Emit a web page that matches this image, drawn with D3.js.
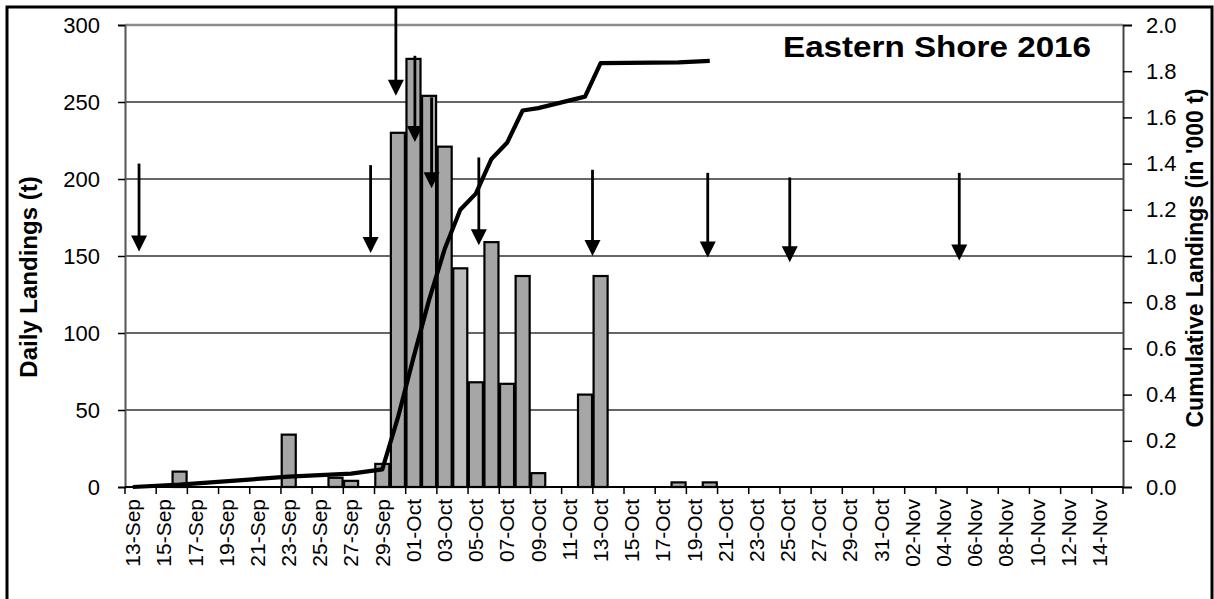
<!DOCTYPE html>
<html>
<head>
<meta charset="utf-8">
<script src="https://cdn.jsdelivr.net/npm/d3@7"></script>
<style>
  body { margin: 0; background: #fff; }
  svg { font-family: "Liberation Sans", Arial, sans-serif; }
</style>
</head>
<body>
<svg id="chart" width="1214" height="599"></svg>
<script>
// categories: one per day, 13-Sep to 15-Nov 2016
const fmt = d3.timeFormat("%d-%b");
const days = d3.timeDay.range(new Date(2016, 8, 13), new Date(2016, 10, 16)).map(fmt);

// daily landings (t), only days with landings
const barDays = ["16-Sep","23-Sep","26-Sep","27-Sep","29-Sep","30-Sep","01-Oct","02-Oct","03-Oct","04-Oct",
                 "05-Oct","06-Oct","07-Oct","08-Oct","09-Oct","12-Oct","13-Oct","18-Oct","20-Oct"];
const dailyLandings = [10, 34, 6, 4, 15, 230, 278, 254, 221, 142, 68, 159, 67, 137, 9, 60, 137, 3, 3];

// cumulative landings ('000 t)
const lineDays = ["13-Sep","16-Sep","23-Sep","26-Sep","27-Sep","29-Sep","30-Sep","01-Oct","02-Oct","03-Oct",
                  "04-Oct","05-Oct","06-Oct","07-Oct","08-Oct","09-Oct","12-Oct","13-Oct","18-Oct","20-Oct"];
const cumulative = [0.0, 0.01, 0.045, 0.055, 0.058, 0.076, 0.30, 0.56, 0.81, 1.03,
                    1.20, 1.27, 1.42, 1.49, 1.63, 1.64, 1.69, 1.835, 1.838, 1.845];

// arrows: position in days from start of axis, start and tip in daily-landing units
const arrowPos  = [0.9, 15.75, 17.37, 18.59, 19.66, 22.69, 29.98, 37.37, 42.63, 53.5];
const arrowFrom = [210, 209, 312, 280, 253, 214, 206, 204, 201, 204];
const arrowTo   = [153, 152, 254, 224, 194, 157, 150, 149, 146, 147];

const leftTicks = [0, 50, 100, 150, 200, 250, 300];
const rightTicks = [0, 0.2, 0.4, 0.6, 0.8, 1.0, 1.2, 1.4, 1.6, 1.8, 2.0];

const svg = d3.select("#chart");
const L = 125, R = 1123, T = 25, B = 487;

const x = d3.scaleBand().domain(days).range([L, R]).paddingInner(0.1).paddingOuter(0.05);
const xi = d3.scaleLinear().domain([0, days.length]).range([L, R]);
const y = d3.scaleLinear().domain([0, 300]).range([B, T]);
const y2 = d3.scaleLinear().domain([0, 2]).range([B, T]);

// outer frame
svg.append("rect").attr("x", 7).attr("y", 7).attr("width", 1205).attr("height", 640)
  .attr("fill", "none").attr("stroke", "#000").attr("stroke-width", 3);

// gridlines
svg.append("g").selectAll("line").data(leftTicks.filter(d => d > 0)).join("line")
  .attr("x1", L).attr("x2", R)
  .attr("y1", d => y(d)).attr("y2", d => y(d))
  .attr("stroke", d => d === 300 ? "#8c8c8c" : "#333")
  .attr("stroke-width", d => d === 300 ? 2.5 : 1.5);

// bars
svg.append("g").selectAll("rect").data(barDays).join("rect")
  .attr("x", d => x(d))
  .attr("width", x.bandwidth())
  .attr("y", (d, i) => y(dailyLandings[i]))
  .attr("height", (d, i) => B - y(dailyLandings[i]))
  .attr("fill", d => d === "04-Oct" ? "#bdbdbd" : "#a6a6a6")
  .attr("stroke", "#000").attr("stroke-width", 2.2);

// cumulative line
const line = d3.line()
  .x(d => x(d) + x.bandwidth() / 2)
  .y((d, i) => y2(cumulative[i]));
svg.append("path").datum(lineDays)
  .attr("d", line)
  .attr("fill", "none").attr("stroke", "#000").attr("stroke-width", 4.2)
  .attr("stroke-linejoin", "round");

// arrows
const arrows = svg.append("g");
arrowPos.forEach((p, i) => {
  const ax = xi(p), top = y(arrowFrom[i]), tip = y(arrowTo[i]);
  arrows.append("line").attr("x1", ax).attr("x2", ax).attr("y1", Math.max(top, 7)).attr("y2", tip - 8)
    .attr("stroke", "#000").attr("stroke-width", 2.8);
  arrows.append("path")
    .attr("d", `M${ax - 8},${tip - 16}L${ax + 8},${tip - 16}L${ax},${tip}Z`)
    .attr("fill", "#000");
});

// left axis
const gl = svg.append("g").attr("transform", `translate(${L},0)`)
  .call(d3.axisLeft(y).tickValues(leftTicks).tickSize(7).tickPadding(18));
gl.select(".domain").attr("stroke", "#555").attr("stroke-width", 2);
gl.selectAll(".tick line").attr("stroke", "#000").attr("stroke-width", 1.5);
gl.selectAll("text").attr("font-size", 22).attr("fill", "#000");

// right axis
const gr = svg.append("g").attr("transform", `translate(${R},0)`)
  .call(d3.axisRight(y2).tickValues(rightTicks).tickFormat(d3.format(".1f")).tickSize(9).tickPadding(14));
gr.select(".domain").attr("stroke", "#444").attr("stroke-width", 2);
gr.selectAll(".tick line").attr("stroke", "#000").attr("stroke-width", 1.5);
gr.selectAll("text").attr("font-size", 22).attr("fill", "#000");

// bottom axis: labels every second day, ticks on category boundaries
const labelDays = days.filter((d, i) => i % 2 === 0);
const gb = svg.append("g").attr("transform", `translate(0,${B})`)
  .call(d3.axisBottom(x).tickValues(labelDays).tickSize(0).tickPadding(0));
gb.select(".domain").remove();
gb.selectAll("text")
  .attr("font-size", 21).attr("fill", "#000")
  .attr("transform", "rotate(-90)")
  .attr("text-anchor", "end")
  .attr("x", -12).attr("y", 0).attr("dy", "0.35em");
svg.append("g").selectAll("line").data(d3.range(0, days.length + 1, 2)).join("line")
  .attr("x1", d => xi(d)).attr("x2", d => xi(d))
  .attr("y1", B).attr("y2", B + 7)
  .attr("stroke", "#000").attr("stroke-width", 1.5);
svg.append("line").attr("x1", L).attr("x2", R).attr("y1", B).attr("y2", B)
  .attr("stroke", "#000").attr("stroke-width", 2);

// titles
svg.append("text").attr("transform", "translate(37,277) rotate(-90)")
  .attr("text-anchor", "middle").attr("font-size", 24).attr("font-weight", "bold")
  .text("Daily Landings  (t)");
svg.append("text").attr("transform", "translate(1203,258) rotate(-90)")
  .attr("text-anchor", "middle").attr("font-size", 23).attr("font-weight", "bold")
  .text("Cumulative Landings (in '000 t)");
svg.append("text").attr("x", 1091).attr("y", 57)
  .attr("text-anchor", "end").attr("font-size", 29).attr("font-weight", "bold")
  .attr("textLength", 308).attr("lengthAdjust", "spacingAndGlyphs")
  .text("Eastern Shore 2016");
</script>
</body>
</html>
